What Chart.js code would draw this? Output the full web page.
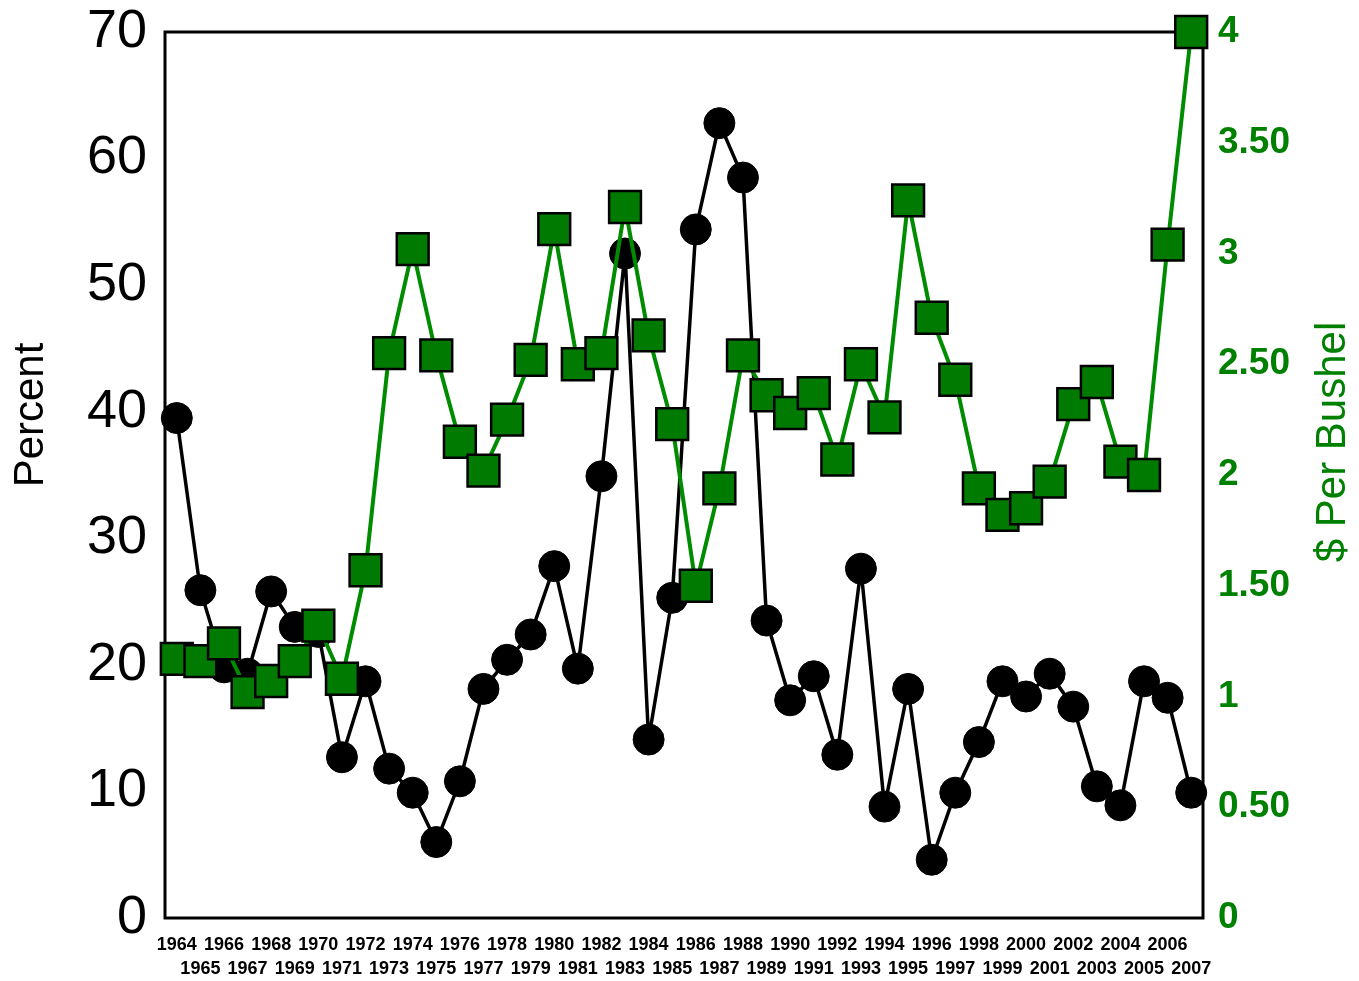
<!DOCTYPE html>
<html>
<head>
<meta charset="utf-8">
<script src="https://cdn.jsdelivr.net/npm/chart.js@4.4.0/dist/chart.umd.min.js"></script>
<style>
    html, body { margin: 0; padding: 0; background: #fff; }
    #wrap { width: 1359px; height: 981px; }
</style>
</head>
<body>
<div id="wrap"><canvas id="chart" width="1359" height="981"></canvas></div>
<script>
// ─── DATA ──────────────────────────────────────────────────
const years = [
    "1964", "1965", "1966", "1967", "1968", "1969", "1970", "1971", "1972", "1973", "1974",
    "1975", "1976", "1977", "1978", "1979", "1980", "1981", "1982", "1983", "1984", "1985",
    "1986", "1987", "1988", "1989", "1990", "1991", "1992", "1993", "1994", "1995", "1996",
    "1997", "1998", "1999", "2000", "2001", "2002", "2003", "2004", "2005", "2006", "2007",
];

// black circles, left axis
const percentValues = [
    39.5, 25.9, 19.8, 19.3, 25.8, 23.0, 22.6, 12.7, 18.7, 11.8, 9.9,
    6.0, 10.8, 18.1, 20.4, 22.4, 27.8, 19.7, 34.9, 52.5, 14.1, 25.3,
    54.4, 62.8, 58.5, 23.5, 17.2, 19.1, 12.9, 27.6, 8.8, 18.1, 4.6,
    9.9, 13.9, 18.7, 17.5, 19.3, 16.7, 10.4, 8.9, 18.7, 17.4, 9.9,
];

// green squares, right axis
const pricePerBushel = [
    1.17, 1.16, 1.24, 1.02, 1.07, 1.16, 1.32, 1.08, 1.57, 2.55, 3.02,
    2.54, 2.15, 2.02, 2.25, 2.52, 3.11, 2.50, 2.55, 3.21, 2.63, 2.23,
    1.50, 1.94, 2.54, 2.36, 2.28, 2.37, 2.07, 2.50, 2.26, 3.24, 2.71,
    2.43, 1.94, 1.82, 1.85, 1.97, 2.32, 2.42, 2.06, 2.00, 3.04, 4.00,
];

const percentRange = { min: 0, max: 70, step: 10 };
const priceRange = { min: 0, max: 4, step: 0.5 };

const leftTitle = "Percent";
const rightTitle = "$ Per Bushel";

// ─── STYLE ─────────────────────────────────────────────────
const FONT = "'Liberation Sans', Arial, sans-serif";
const GREEN_TEXT = "#008000";
const GREEN_LINE = "#008c00";
const GREEN_FILL = "#007a00";

// frame around the plot, drawn under the markers
const framePlugin = {
    id: "frame",
    beforeDatasetsDraw(chart) {
        const { ctx, chartArea: a } = chart;
        ctx.save();
        ctx.strokeStyle = "#000";
        ctx.lineWidth = 3;
        ctx.strokeRect(a.left, a.top, a.right - a.left, a.bottom - a.top);
        ctx.restore();
    },
};

// both axis titles read bottom-to-top
const titlesPlugin = {
    id: "axisTitles",
    afterDraw(chart) {
        const { ctx, chartArea: a } = chart;
        const draw = (text, x, y, color) => {
            ctx.save();
            ctx.translate(x, y);
            ctx.rotate(-Math.PI / 2);
            ctx.font = `42px ${FONT}`;
            ctx.fillStyle = color;
            ctx.textAlign = "center";
            ctx.textBaseline = "middle";
            ctx.fillText(text, 0, 0);
            ctx.restore();
        };
        draw(leftTitle, a.left - 134, a.top + 383, "#000");
        draw(rightTitle, a.right + 130, a.top + 410, GREEN_TEXT);
    },
};

// keep tick label overflow from pushing the plot area around
const noOverflow = (scale) => {
    scale.paddingTop = 0;
    scale.paddingBottom = 0;
    scale.paddingLeft = 0;
    scale.paddingRight = 0;
};

new Chart(document.getElementById("chart"), {
    type: "line",
    data: {
        labels: years,
        datasets: [
            {
                label: rightTitle,
                data: pricePerBushel,
                yAxisID: "yPrice",
                borderColor: GREEN_LINE,
                borderWidth: 4,
                pointStyle: "rect",
                pointRadius: 22.5,
                pointBackgroundColor: GREEN_FILL,
                pointBorderColor: "#000",
                pointBorderWidth: 2.5,
                tension: 0,
                clip: false,
            },
            {
                label: leftTitle,
                data: percentValues,
                yAxisID: "yPct",
                borderColor: "#000",
                borderWidth: 3.5,
                pointStyle: "circle",
                pointRadius: 15.5,
                pointBackgroundColor: "#000",
                pointBorderColor: "#000",
                pointBorderWidth: 1,
                tension: 0,
                clip: false,
            },
        ],
    },
    options: {
        responsive: false,
        animation: false,
        devicePixelRatio: 1,
        layout: { padding: { top: 32, left: 0, right: 0, bottom: 0 } },
        plugins: {
            legend: { display: false },
            tooltip: { enabled: false },
        },
        scales: {
            x: {
                type: "category",
                offset: true,
                grid: { display: false, drawTicks: false },
                border: { display: false },
                ticks: {
                    autoSkip: false,
                    maxRotation: 0,
                    minRotation: 0,
                    padding: 15,
                    color: "#000",
                    font: { family: FONT, size: 18, weight: "bold", lineHeight: 1.33 },
                    callback: function (value, index) {
                        const label = this.getLabelForValue(value);
                        return index % 2 === 0 ? label : ["", label];
                    },
                },
                afterFit: (scale) => { noOverflow(scale); scale.height = 63; },
            },
            yPct: {
                position: "left",
                min: percentRange.min,
                max: percentRange.max,
                grid: { display: false, drawTicks: false },
                border: { display: false },
                ticks: {
                    stepSize: percentRange.step,
                    padding: 18,
                    color: "#000",
                    font: { family: FONT, size: 54 },
                },
                afterFit: (scale) => { noOverflow(scale); scale.width = 165; },
            },
            yPrice: {
                position: "right",
                min: priceRange.min,
                max: priceRange.max,
                grid: { display: false, drawTicks: false },
                border: { display: false },
                ticks: {
                    stepSize: priceRange.step,
                    padding: 15,
                    color: GREEN_TEXT,
                    font: { family: FONT, size: 37, weight: "bold" },
                    callback: (v) => (v % 1 === 0 ? String(v) : v.toFixed(2)),
                },
                afterFit: (scale) => { noOverflow(scale); scale.width = 156; },
            },
        },
    },
    plugins: [framePlugin, titlesPlugin],
});
</script>
</body>
</html>
